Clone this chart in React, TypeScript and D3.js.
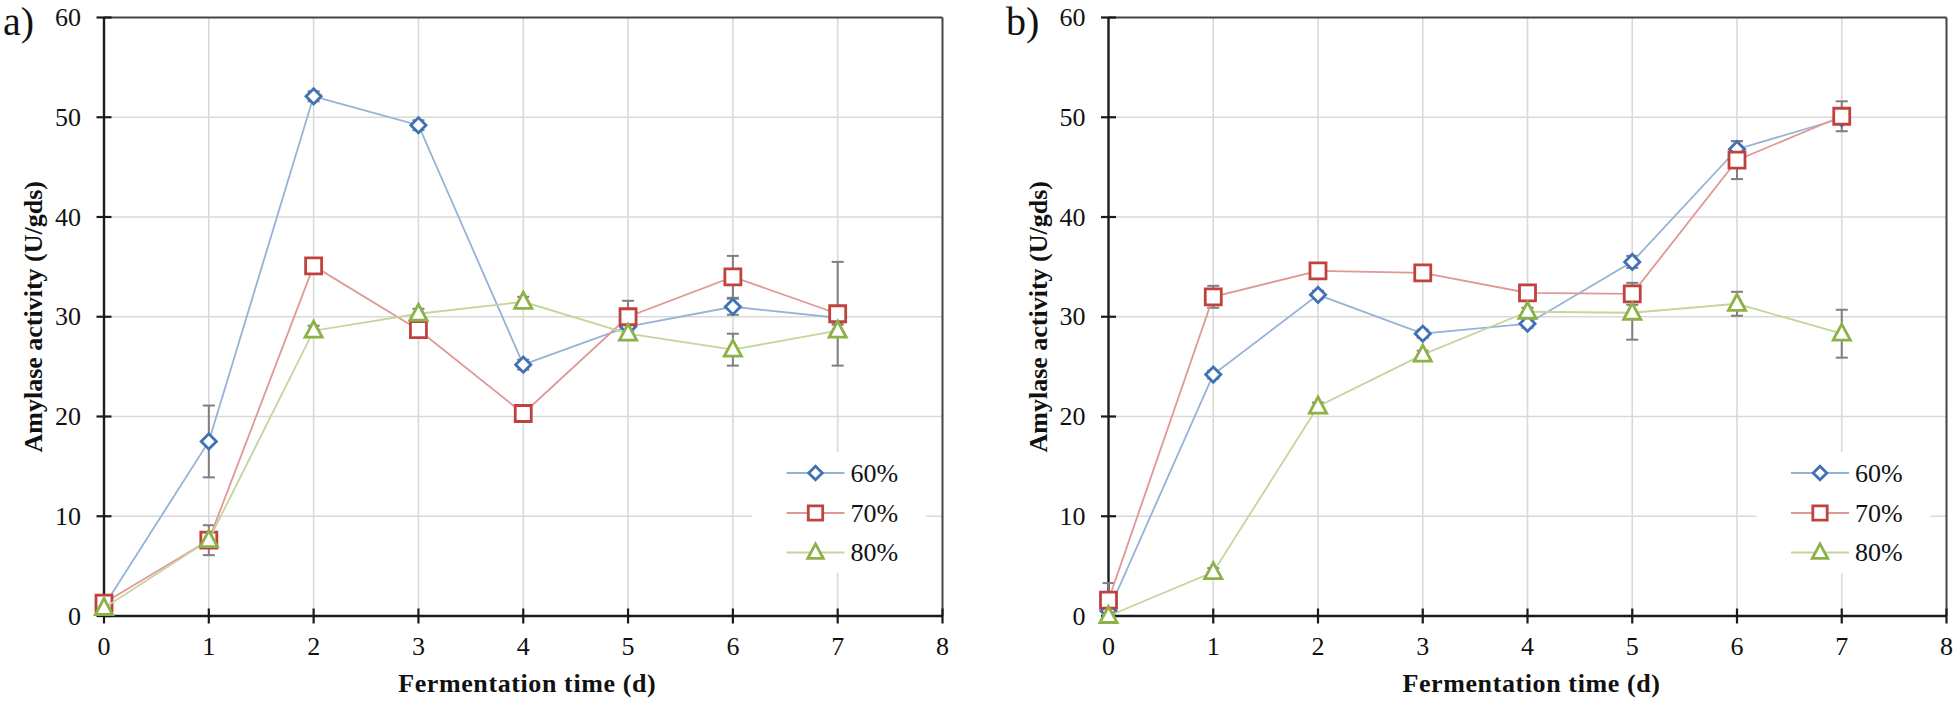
import React from "react";
import * as d3 from "d3";

const days = [0, 1, 2, 3, 4, 5, 6, 7];
const xTicks = [0, 1, 2, 3, 4, 5, 6, 7, 8];
const yTicks = [0, 10, 20, 30, 40, 50, 60];
const seriesNames = ["60%", "70%", "80%"];

const a60 = [1.0, 17.5, 52.1, 49.2, 25.2, 29.0, 31.0, 29.9];
const a70 = [1.3, 7.6, 35.1, 28.7, 20.3, 30.0, 34.0, 30.3];
const a80 = [0.8, 7.6, 28.6, 30.3, 31.5, 28.3, 26.7, 28.6];
const a60err = [0.3, 3.6, 0.5, 0.5, 0.5, 0.5, 0.8, 0.5];
const a70err = [0.4, 0.6, 0.5, 0.6, 0.5, 1.6, 2.1, 5.2];
const a80err = [0.3, 1.5, 0.5, 0.5, 0.5, 0.6, 1.6, 0.6];

const b60 = [0.5, 24.2, 32.2, 28.3, 29.3, 35.5, 46.8, 49.9];
const b70 = [1.6, 32.0, 34.6, 34.4, 32.4, 32.3, 45.7, 50.1];
const b80 = [0.0, 4.4, 21.0, 26.2, 30.5, 30.4, 31.3, 28.3];
const b60err = [0.3, 0.4, 0.4, 0.4, 0.4, 0.6, 0.8, 0.5];
const b70err = [1.7, 1.1, 0.4, 0.4, 0.4, 1.1, 1.9, 1.5];
const b80err = [0.2, 0.4, 0.4, 0.4, 0.4, 2.7, 1.2, 2.4];

const lineColors = ["#95b3d7", "#e09896", "#c3d69b"];
const markColors = ["#3f72b5", "#c0423f", "#8cb147"];
const FONT = "'Liberation Serif', 'Times New Roman', serif";

function markerPath(kind: number, s = 1): string {
  if (kind === 0) {
    const r = 7.6 * s;
    return `M0,${-r}L${r},0L0,${r}L${-r},0Z`;
  }
  if (kind === 1) {
    const h = 8 * s;
    return `M${-h},${-h}H${h}V${h}H${-h}Z`;
  }
  const w = 8.6 * s;
  const t = 9.5 * s;
  const b = 6.5 * s;
  return `M0,${-t}L${w},${b}L${-w},${b}Z`;
}

type PanelProps = {
  x0: number;
  x1: number;
  label: string;
  labelX: number;
  series: number[][];
  errs: number[][];
};

function Panel({ x0, x1, label, labelX, series, errs }: PanelProps) {
  const top = 17.5;
  const bottom = 616;
  const x = d3.scaleLinear().domain([0, 8]).range([x0, x1]);
  const y = d3.scaleLinear().domain([0, 60]).range([bottom, top]);
  const line = d3
    .line<number>()
    .x((_, i) => x(days[i]))
    .y((d) => y(d));

  const legX = x0 + 711.5;
  const legRows = [473, 513, 552.5];

  return (
    <g>
      {yTicks.slice(1, -1).map((t) => (
        <line key={"gy" + t} x1={x0} x2={x1} y1={y(t)} y2={y(t)} stroke="#d9d9d9" strokeWidth={1.6} />
      ))}
      {xTicks.slice(1, -1).map((t) => (
        <line key={"gx" + t} x1={x(t)} x2={x(t)} y1={top} y2={bottom} stroke="#d9d9d9" strokeWidth={1.6} />
      ))}
      <rect x={x0 + 648} y={452} width={174} height={121} fill="#fff" />
      <line x1={x0} x2={x1} y1={top} y2={top} stroke="#444" strokeWidth={2} />
      <line x1={x1} x2={x1} y1={top} y2={bottom} stroke="#444" strokeWidth={2} />
      <line x1={x0} x2={x0} y1={top} y2={bottom} stroke="#1a1a1a" strokeWidth={2.4} />
      <line x1={x0} x2={x1} y1={bottom} y2={bottom} stroke="#1a1a1a" strokeWidth={2.4} />
      {yTicks.map((t) => (
        <g key={"ty" + t}>
          <line x1={x0 - 7.5} x2={x0 + 7.5} y1={y(t)} y2={y(t)} stroke="#1a1a1a" strokeWidth={2.2} />
          <text x={x0 - 23} y={y(t) + 8.5} textAnchor="end" fontFamily={FONT} fontSize={26} fill="#111">
            {t}
          </text>
        </g>
      ))}
      {xTicks.map((t) => (
        <g key={"tx" + t}>
          <line x1={x(t)} x2={x(t)} y1={bottom - 7.5} y2={bottom + 7.5} stroke="#1a1a1a" strokeWidth={2.2} />
          <text x={x(t)} y={bottom + 39} textAnchor="middle" fontFamily={FONT} fontSize={26} fill="#111">
            {t}
          </text>
        </g>
      ))}
      <text
        x={(x0 + x1) / 2 + 4}
        y={692}
        textAnchor="middle"
        fontFamily={FONT}
        fontWeight="bold"
        fontSize={26}
        letterSpacing={0.6}
        fill="#111"
      >
        Fermentation time (d)
      </text>
      <text
        transform={`translate(${x0 - 62},${(top + bottom) / 2}) rotate(-90)`}
        textAnchor="middle"
        fontFamily={FONT}
        fontWeight="bold"
        fontSize={26}
        fill="#111"
      >
        Amylase activity (U/gds)
      </text>
      <text x={labelX} y={35} fontFamily={FONT} fontSize={40} fill="#111">
        {label}
      </text>
      {series.map((vals, si) =>
        vals.map((v, i) => {
          const e = errs[si][i];
          const cx = x(days[i]);
          const yt = y(v + e);
          const yb = y(Math.max(0, v - e));
          return (
            <g key={`e${si}-${i}`} stroke="#7f7f7f" strokeWidth={2}>
              <line x1={cx} x2={cx} y1={yt} y2={yb} />
              <line x1={cx - 6} x2={cx + 6} y1={yt} y2={yt} />
              <line x1={cx - 6} x2={cx + 6} y1={yb} y2={yb} />
            </g>
          );
        })
      )}
      {series.map((vals, si) => (
        <g key={"s" + si}>
          <path d={line(vals) || ""} fill="none" stroke={lineColors[si]} strokeWidth={1.8} />
          {vals.map((v, i) => (
            <path
              key={i}
              d={markerPath(si)}
              transform={`translate(${x(days[i])},${y(v)})`}
              fill="#fff"
              stroke={markColors[si]}
              strokeWidth={2.8}
            />
          ))}
        </g>
      ))}
      {seriesNames.map((n, si) => (
        <g key={"l" + si}>
          <line x1={legX - 29} x2={legX + 29} y1={legRows[si]} y2={legRows[si]} stroke={lineColors[si]} strokeWidth={1.8} />
          <path
            d={markerPath(si, 0.9)}
            transform={`translate(${legX},${legRows[si]})`}
            fill="#fff"
            stroke={markColors[si]}
            strokeWidth={2.8}
          />
          <text x={legX + 35} y={legRows[si] + 8.5} fontFamily={FONT} fontSize={26} fill="#111">
            {n}
          </text>
        </g>
      ))}
    </g>
  );
}

export default function App() {
  return (
    <svg width={1960} height={705} style={{ position: "absolute", left: 0, top: 0, background: "#fff" }}>
      <rect x={0} y={0} width={1960} height={705} fill="#fff" />
      <Panel x0={104} x1={942.5} label="a)" labelX={3} series={[a60, a70, a80]} errs={[a60err, a70err, a80err]} />
      <Panel x0={1108.5} x1={1946.5} label="b)" labelX={1006} series={[b60, b70, b80]} errs={[b60err, b70err, b80err]} />
    </svg>
  );
}
